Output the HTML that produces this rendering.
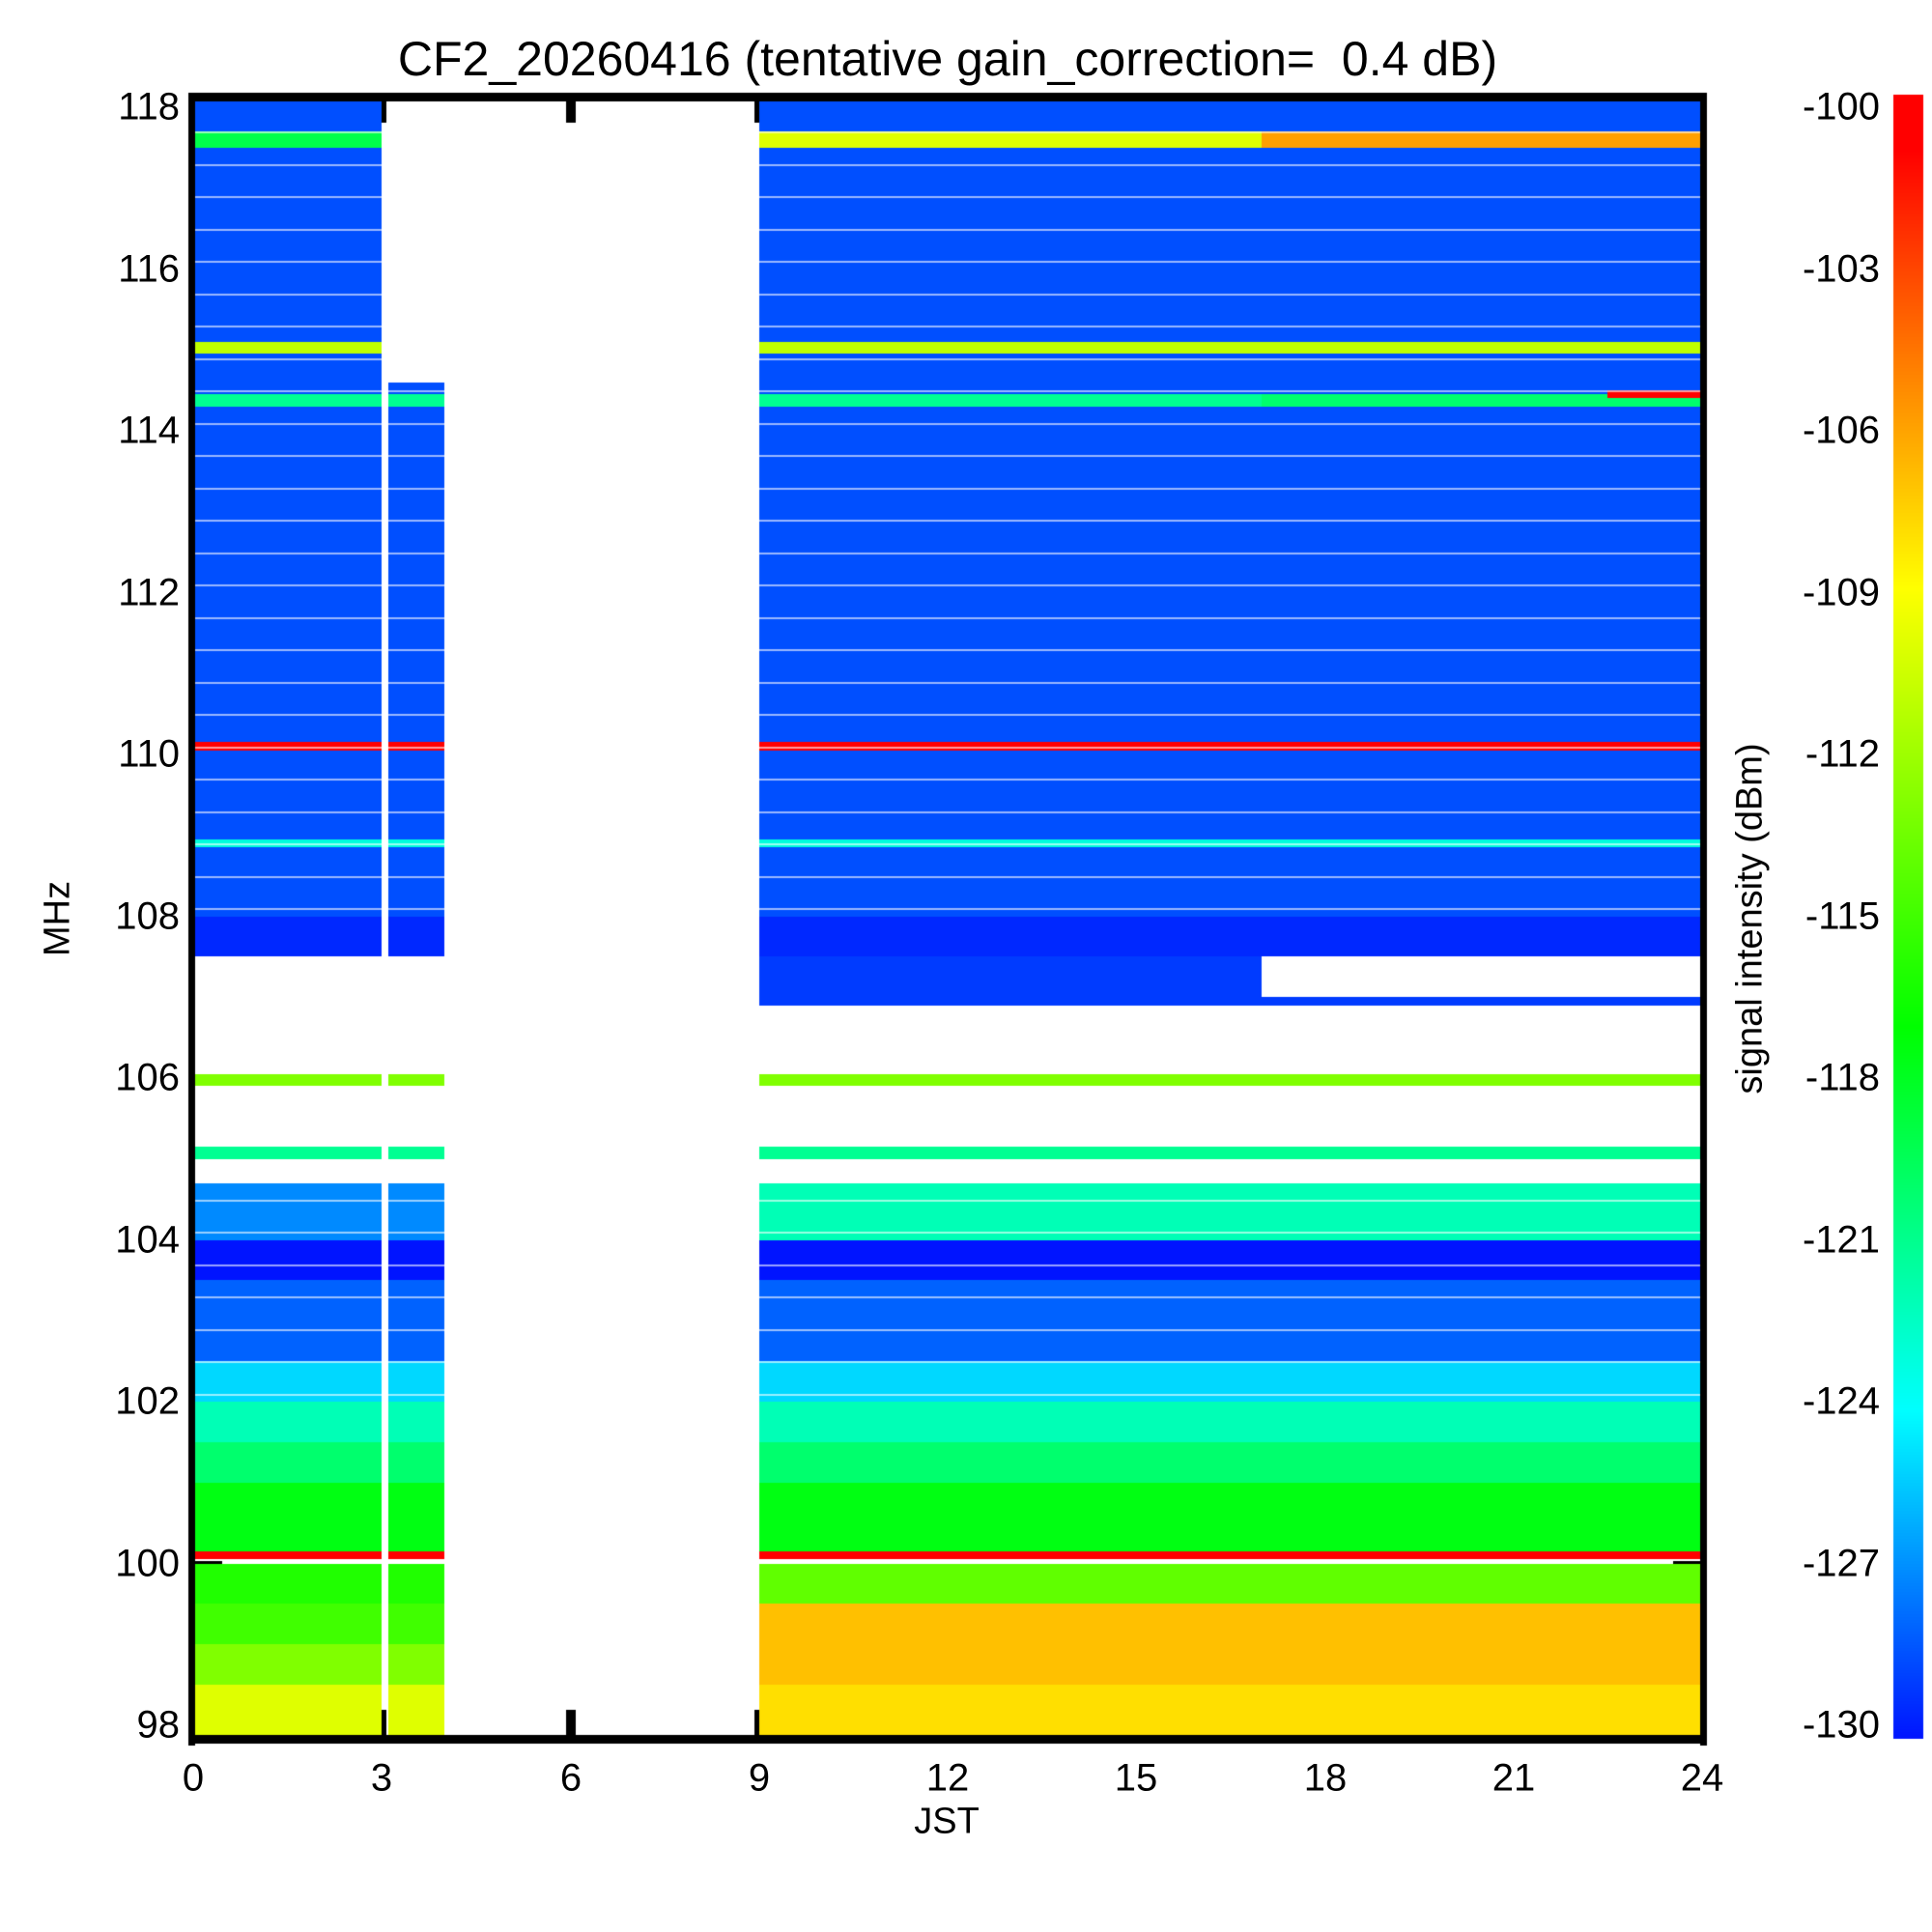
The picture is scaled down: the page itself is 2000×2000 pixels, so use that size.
<!DOCTYPE html>
<html><head><meta charset="utf-8">
<style>
html,body{margin:0;padding:0;background:#fff;}
#wrap{position:relative;width:2000px;height:2000px;font-family:"Liberation Sans",sans-serif;color:#000;}
.t{position:absolute;white-space:nowrap;}
</style></head>
<body>
<div id="wrap">
<div class="t" style="left:0;width:1962px;text-align:center;top:32px;font-size:50px;">CF2_20260416 (tentative gain_correction=&nbsp; 0.4 dB)</div>
<canvas id="cv" width="2000" height="2000" style="position:absolute;left:0;top:0"></canvas>
<div id="labels"></div>
<div class="t" style="left:60px;top:951px;font-size:38px;transform:translate(-50%,-50%) rotate(-90deg);">MHz</div>
<div class="t" style="left:980px;top:1886px;font-size:38px;transform:translate(-50%,-50%);">JST</div>
<div class="t" style="left:1812px;top:951px;font-size:38px;transform:translate(-50%,-50%) rotate(-90deg);">signal intensity (dBm)</div>
</div>
<script>
// ---- data ----
const xTicks = [0,3,6,9,12,15,18,21,24];
const yTicks = [98,100,102,104,106,108,110,112,114,116,118];
const cbTicks = [-100,-103,-106,-109,-112,-115,-118,-121,-124,-127,-130];
// time segments with data (hours)
const segStart = [0, 3.1, 9, 17];
const segEnd   = [3.0, 4.0, 17, 24];
const segTop   = [118.2, 114.6, 118.2, 118.2];
// frequency bands (later entries override earlier)
const bandLo = [97.8, 98.5, 99.0, 99.5, 100.15, 100.05, 101.0, 101.5, 102.0, 102.5, 103.5, 104.0, 105.0, 105.9, 106.9, 107.0, 107.5, 108.0, 108.85, 110.05, 114.3, 114.95, 115.6, 117.5, 118.0];
const bandHi = [98.5, 99.0, 99.5, 100.0, 101.0, 100.15, 101.5, 102.0, 102.5, 103.5, 104.0, 104.7, 105.15, 106.05, 107.0, 107.5, 108.0, 115.6, 108.95, 110.15, 114.45, 115.1, 118.0, 117.7, 118.2];
const valA = [-110, -113, -115, -116, -117.5, -100, -120, -122, -125, -128, -130, -127, -121, -113, null, null, -129.5, -128.5, -123, -100, -121, -111, -128.5, -119, -128.5];
const valB = [-110, -113, -115, -116, -117.5, -100, -120, -122, -125, -128, -130, -127, -121, -113, null, null, -129.5, -128.5, -123, -100, -121, -111, -128.5, -119, -128.5];
const valC = [-108, -107, -107, -114, -117.5, -100, -120, -122, -125, -128, -130, -122, -121, -113, -129, -129, -129.5, -128.5, -123, -100, -121, -111, -128.5, -110, -128.5];
const valD = [-108, -107, -107, -114, -117.5, -100, -120, -122, -125, -128, -130, -122, -121, -113, -129, null, -129.5, -128.5, -123, -100, -120, -111, -128.5, -106, -128.5];
const segVals = [valA, valB, valC, valD];
// ---- axes ----
const PX0=200, PX1=1762, PY0=97, PY1=1800;
const fx = h => Math.round(PX0 + (h/24)*(PX1-PX0));
const fy = f => Math.round(111 + (118-f)*(1786-111)/20);
const fc = v => 1786 - (v+130)*(1786-111)/30;
const stops=[[-130,[0,20,255]],[-124,[0,255,255]],[-117,[0,255,0]],[-109,[255,255,0]],[-105,[255,128,0]],[-101,[255,0,0]],[-100,[255,0,0]]];
function col(v){
  for(let i=0;i<stops.length-1;i++){const a=stops[i],b=stops[i+1];
    if(v<=b[0]){const t=Math.max(0,(v-a[0])/(b[0]-a[0]));
      return 'rgb('+a[1].map((c,k)=>Math.round(c+(b[1][k]-c)*t)).join(',')+')';}}
  return 'rgb(255,0,0)';
}
const cv=document.getElementById('cv');const ctx=cv.getContext('2d');
ctx.fillStyle='#000';
// ticks (drawn beneath data)
xTicks.forEach(h=>{const x=fx(h);ctx.fillRect(x-5,PY0,10,30);ctx.fillRect(x-5,PY1-30,10,30);});
yTicks.forEach(f=>{const y=fy(f);ctx.fillRect(PX0,y-3,30,6);ctx.fillRect(PX1-30,y-3,30,6);});
ctx.save();ctx.beginPath();ctx.rect(PX0,PY0,PX1-PX0,PY1-PY0);ctx.clip();
for(let s=0;s<segStart.length;s++){
  const x0=fx(segStart[s]), x1=fx(segEnd[s]);
  const vals=segVals[s];
  for(let i=0;i<bandLo.length;i++){
    const lo=bandLo[i], hi=Math.min(bandHi[i],segTop[s]);
    if(hi<=lo) continue;
    const y0=fy(hi), y1=fy(lo);
    if(vals[i]===null){ctx.fillStyle='#fff';}else{ctx.fillStyle=col(vals[i]);}
    ctx.fillRect(x0,y0,x1-x0,y1-y0);
  }
  if(s===3){ctx.fillStyle=col(-100);ctx.fillRect(fx(22.5),fy(114.5),fx(24)-fx(22.5),fy(114.4)-fy(114.5));}
  ctx.fillStyle='rgba(255,255,255,0.6)';
  for(let f=102.1; f<segTop[s]; f+=0.4){ if(f>104.7&&f<107.9) continue; ctx.fillRect(x0,fy(f),x1-x0,2);}
}
ctx.restore();
// frame
ctx.fillStyle='#000';
ctx.fillRect(PX0-5,PY0-1,PX1-PX0+10,9);
ctx.fillRect(PX0-5,PY1-4,PX1-PX0+10,9);
ctx.fillRect(PX0-5,PY0-1,7,PY1-PY0+8);
ctx.fillRect(PX1-2,PY0-1,7,PY1-PY0+8);
// colorbar
const CB0=1960,CB1=1991;
for(let y=98;y<1800;y++){const v=-130+(1800-y)/(1800-98)*30;ctx.fillStyle=col(v);ctx.fillRect(CB0,y,CB1-CB0,1);}
// labels
const L=document.getElementById('labels');
function lab(txt,css,name){const d=document.createElement('div');d.className='t';d.textContent=txt;d.style.cssText=css;


L.appendChild(d);}
xTicks.forEach(h=>lab(String(h),'left:'+fx(h)+'px;top:1841px;font-size:40px;transform:translate(-50%,-50%);','x-tick-label'));
yTicks.forEach(f=>lab(String(f),'right:'+(2000-186)+'px;top:'+fy(f)+'px;font-size:40px;transform:translateY(-50%);','y-tick-label'));
cbTicks.forEach(v=>lab(String(v),'right:'+(2000-1946)+'px;top:'+fc(v)+'px;font-size:40px;transform:translateY(-50%);','colorbar-tick-label'));
</script>
</body></html>
